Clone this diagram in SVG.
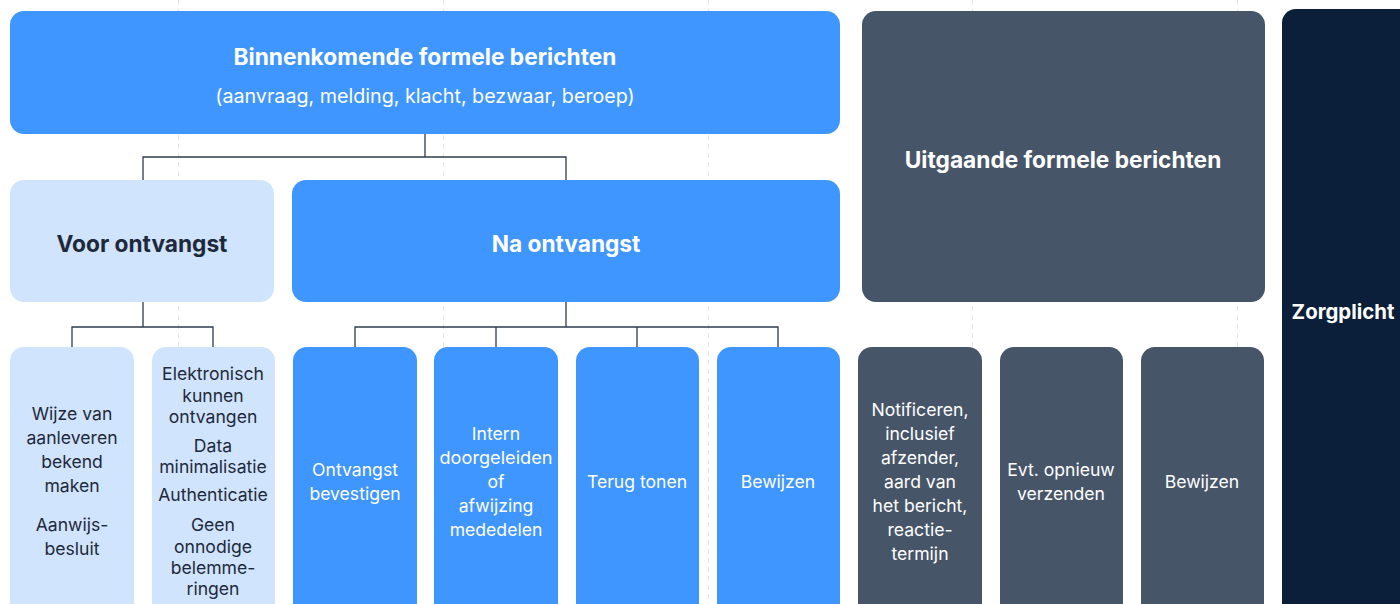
<svg xmlns="http://www.w3.org/2000/svg" width="1400" height="604" viewBox="0 0 1400 604">
<style>
.grid{stroke:#dfe6ef;stroke-width:1;stroke-dasharray:5 4;fill:none}
.conn{stroke:#2f3b4c;stroke-width:1.3;fill:none}
.blue{fill:#4096ff}
.light{fill:#d0e4fd}
.slate{fill:#475569}
.navy{fill:#0b1f3a}
text{font-family:Inter,"Noto Sans","Liberation Sans",sans-serif;text-anchor:middle}
.h{font-weight:700;font-size:22.7px}
.sub{font-size:19.7px;fill:#fff}
.w{fill:#fff}
.d{fill:#1e293b}
.t{font-size:17.6px}
</style>
<rect width="1400" height="604" fill="#fff"/>
<g id="grid">
<line class="grid" x1="178.5" y1="0" x2="178.5" y2="604"/>
<line class="grid" x1="443.5" y1="0" x2="443.5" y2="604"/>
<line class="grid" x1="708.5" y1="0" x2="708.5" y2="604"/>
<line class="grid" x1="972.5" y1="0" x2="972.5" y2="604"/>
<line class="grid" x1="1237.5" y1="0" x2="1237.5" y2="604"/>
</g>
<g id="connectors">
<path class="conn" d="M425 134V157M143 180V157H566V180"/>
<path class="conn" d="M143 302V327M72 347V327H213V347"/>
<path class="conn" d="M566 302V327M355 347V327H778V347M496 327V347M637 327V347"/>
</g>
<g id="binnenkomend">
<rect class="blue" x="10" y="11" width="830" height="123" rx="14"/>
<text class="h w" x="425" y="65">Binnenkomende formele berichten</text>
<text class="sub" x="425" y="103">(aanvraag, melding, klacht, bezwaar, beroep)</text>
</g>
<g id="uitgaand">
<rect class="slate" x="862" y="11" width="403" height="291" rx="14"/>
<text class="h w" x="1063" y="168">Uitgaande formele berichten</text>
</g>
<g id="zorgplicht">
<rect class="navy" x="1282" y="9" width="140" height="620" rx="14"/>
<text class="h w" x="1343" y="319" style="font-size:20.4px">Zorgplicht</text>
</g>
<g id="voor">
<rect class="light" x="10" y="180" width="264" height="122" rx="14"/>
<text class="h d" x="142" y="252">Voor ontvangst</text>
</g>
<g id="na">
<rect class="blue" x="292" y="180" width="548" height="122" rx="14"/>
<text class="h w" x="566" y="252">Na ontvangst</text>
</g>
<g id="wijze">
<rect class="light" x="10" y="347" width="124" height="280" rx="14"/>
<text class="t d" x="72"><tspan x="72" y="420">Wijze van</tspan><tspan x="72" y="444">aanleveren</tspan><tspan x="72" y="468">bekend</tspan><tspan x="72" y="492">maken</tspan><tspan x="72" y="531">Aanwijs-</tspan><tspan x="72" y="555">besluit</tspan></text>
</g>
<g id="elektronisch">
<rect class="light" x="152" y="347" width="123" height="280" rx="14"/>
<text class="t d" x="213"><tspan x="213" y="380">Elektronisch</tspan><tspan x="213" y="402">kunnen</tspan><tspan x="213" y="423">ontvangen</tspan><tspan x="213" y="452">Data</tspan><tspan x="213" y="473">minimalisatie</tspan><tspan x="213" y="501">Authenticatie</tspan><tspan x="213" y="531">Geen</tspan><tspan x="213" y="553">onnodige</tspan><tspan x="213" y="574">belemme-</tspan><tspan x="213" y="595">ringen</tspan></text>
</g>
<g id="ontvangst">
<rect class="blue" x="293" y="347" width="124" height="280" rx="14"/>
<text class="t w" x="355"><tspan x="355" y="476">Ontvangst</tspan><tspan x="355" y="500">bevestigen</tspan></text>
</g>
<g id="intern">
<rect class="blue" x="434" y="347" width="124" height="280" rx="14"/>
<text class="t w" x="496"><tspan x="496" y="440">Intern</tspan><tspan x="496" y="464" textLength="113" lengthAdjust="spacingAndGlyphs">doorgeleiden</tspan><tspan x="496" y="488">of</tspan><tspan x="496" y="512">afwijzing</tspan><tspan x="496" y="536">mededelen</tspan></text>
</g>
<g id="terug">
<rect class="blue" x="576" y="347" width="123" height="280" rx="14"/>
<text class="t w" x="637" y="488">Terug tonen</text>
</g>
<g id="bewijzen1">
<rect class="blue" x="717" y="347" width="123" height="280" rx="14"/>
<text class="t w" x="778" y="488">Bewijzen</text>
</g>
<g id="notificeren">
<rect class="slate" x="858" y="347" width="124" height="280" rx="14"/>
<text class="t w" x="920"><tspan x="920" y="416">Notificeren,</tspan><tspan x="920" y="440">inclusief</tspan><tspan x="920" y="464">afzender,</tspan><tspan x="920" y="488">aard van</tspan><tspan x="920" y="512">het bericht,</tspan><tspan x="920" y="536">reactie-</tspan><tspan x="920" y="560">termijn</tspan></text>
</g>
<g id="opnieuw">
<rect class="slate" x="1000" y="347" width="123" height="280" rx="14"/>
<text class="t w" x="1061"><tspan x="1061" y="476">Evt. opnieuw</tspan><tspan x="1061" y="500">verzenden</tspan></text>
</g>
<g id="bewijzen2">
<rect class="slate" x="1141" y="347" width="123" height="280" rx="14"/>
<text class="t w" x="1202" y="488">Bewijzen</text>
</g>
</svg>
